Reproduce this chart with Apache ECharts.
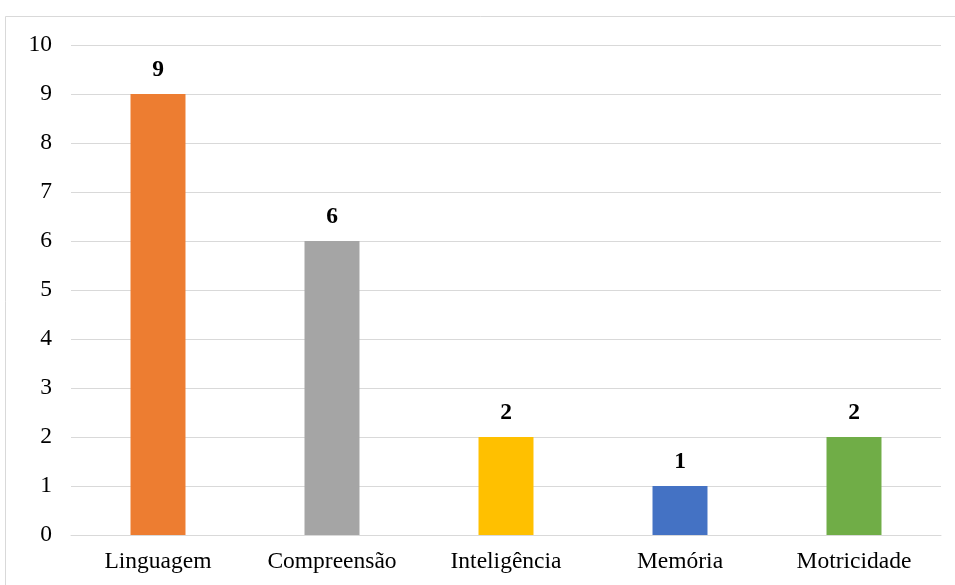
<!DOCTYPE html>
<html>
<head>
<meta charset="utf-8">
<script src="https://cdn.jsdelivr.net/npm/echarts@6/dist/echarts.min.js"></script>
<style>
  html, body { margin: 0; padding: 0; background: #fff; }
  #chart { width: 955px; height: 585px; }
</style>
</head>
<body>
<div id="chart"></div>
<script>
// Categories and counts per area
const categories = ['Linguagem', 'Compreensão', 'Inteligência', 'Memória', 'Motricidade'];
const counts = [9, 6, 2, 1, 2];
const barColors = ['#ED7D31', '#A5A5A5', '#FFC000', '#4472C4', '#70AD47'];
const yTicks = { min: 0, max: 10, interval: 1 };

const font = '"Liberation Serif", "Times New Roman", serif';

const chart = echarts.init(document.getElementById('chart'), null, { renderer: 'canvas' });
chart.setOption({
  backgroundColor: '#ffffff',
  animation: false,
  graphic: [{
    type: 'rect',
    shape: { x: 5.5, y: 16.5, width: 1000, height: 700 },
    style: { fill: 'none', stroke: '#D9D9D9', lineWidth: 1 },
    silent: true,
    z: -1
  }],
  grid: { left: 71, right: 14, top: 45, bottom: 50, containLabel: false },
  xAxis: {
    type: 'category',
    data: categories,
    axisLine: { show: true, lineStyle: { color: '#D9D9D9', width: 1 } },
    axisTick: { show: false },
    axisLabel: { color: '#000', fontFamily: font, fontSize: 23.5, margin: 15 }
  },
  yAxis: {
    type: 'value',
    min: yTicks.min,
    max: yTicks.max,
    interval: yTicks.interval,
    axisLine: { show: false },
    axisTick: { show: false },
    splitLine: { lineStyle: { color: '#D9D9D9', width: 1 } },
    axisLabel: { color: '#000', fontFamily: font, fontSize: 23.5, margin: 19 }
  },
  series: [{
    type: 'bar',
    barWidth: '31.6%',
    data: counts.map((v, i) => ({ value: v, itemStyle: { color: barColors[i] } })),
    label: {
      show: true,
      position: 'top',
      distance: 12,
      color: '#000',
      fontFamily: font,
      fontSize: 23.5,
      fontWeight: 'bold'
    }
  }]
});
</script>
</body>
</html>
